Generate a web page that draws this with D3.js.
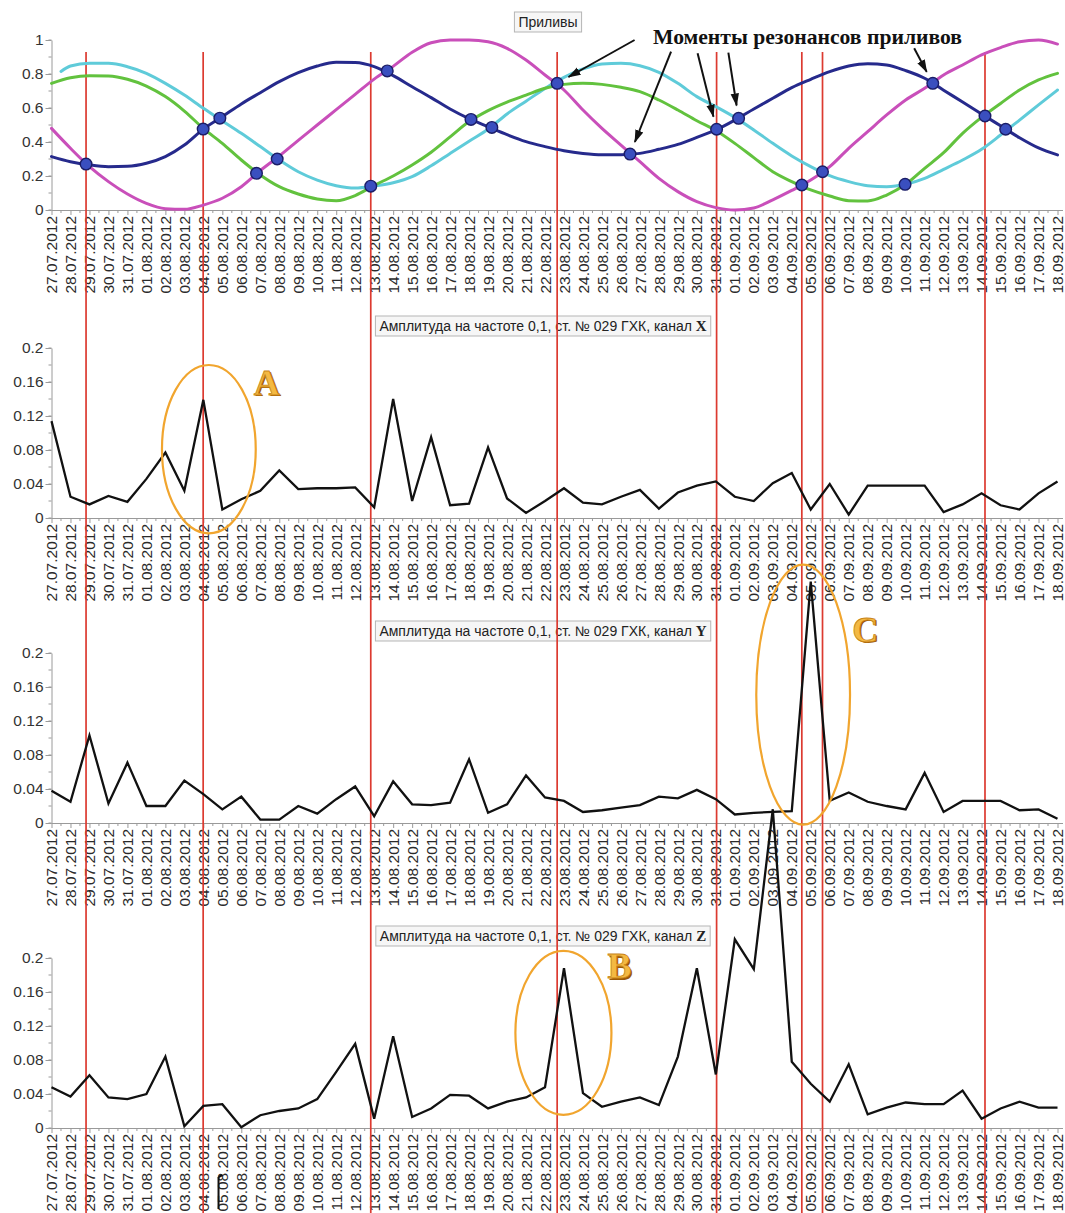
<!DOCTYPE html>
<html><head><meta charset="utf-8">
<script src="https://cdn.jsdelivr.net/npm/d3@7"></script>
<style>body{margin:0;background:#fff} svg{display:block}</style>
</head><body>
<script>
// ---------------- DATA ----------------
const dateLabels = [
 "27.07.2012","28.07.2012","29.07.2012","30.07.2012","31.07.2012",
 "01.08.2012","02.08.2012","03.08.2012","04.08.2012","05.08.2012","06.08.2012","07.08.2012","08.08.2012",
 "09.08.2012","10.08.2012","11.08.2012","12.08.2012","13.08.2012","14.08.2012","15.08.2012","16.08.2012",
 "17.08.2012","18.08.2012","19.08.2012","20.08.2012","21.08.2012","22.08.2012","23.08.2012","24.08.2012",
 "25.08.2012","26.08.2012","27.08.2012","28.08.2012","29.08.2012","30.08.2012","31.08.2012",
 "01.09.2012","02.09.2012","03.09.2012","04.09.2012","05.09.2012","06.09.2012","07.09.2012","08.09.2012",
 "09.09.2012","10.09.2012","11.09.2012","12.09.2012","13.09.2012","14.09.2012","15.09.2012","16.09.2012",
 "17.09.2012","18.09.2012"];

// Tides (Приливы)
const tideMagenta = [0.480,0.363,0.255,0.167,0.094,0.039,0.008,0.004,0.029,0.069,
 0.137,0.232,0.318,0.410,0.500,0.590,0.680,0.770,0.845,0.928,
 0.984,1.000,1.000,0.990,0.951,0.882,0.794,0.706,0.588,0.480,
 0.382,0.284,0.186,0.108,0.049,0.014,0.000,0.012,0.060,0.115,
 0.176,0.255,0.363,0.461,0.559,0.647,0.716,0.794,0.853,0.912,
 0.955,0.990,1.000,0.976];
const cyanStart = [0.5, 0.815];
const tideCyan = [null,0.847,0.863,0.863,0.843,0.804,0.745,0.676,0.598,0.524,
 0.451,0.373,0.294,0.225,0.176,0.143,0.129,0.141,0.160,0.196,
 0.260,0.333,0.405,0.475,0.565,0.640,0.715,0.780,0.830,0.859,
 0.863,0.849,0.810,0.745,0.667,0.608,0.545,0.471,0.392,0.318,
 0.255,0.202,0.167,0.143,0.137,0.151,0.186,0.239,0.294,0.357,
 0.441,0.529,0.618,0.706];
const tideGreen = [0.745,0.778,0.790,0.788,0.769,0.729,0.667,0.582,0.480,0.392,
 0.294,0.206,0.137,0.094,0.065,0.055,0.085,0.145,0.200,0.265,
 0.340,0.430,0.520,0.585,0.635,0.676,0.716,0.739,0.745,0.739,
 0.722,0.696,0.647,0.588,0.525,0.468,0.392,0.308,0.225,0.167,
 0.118,0.082,0.055,0.053,0.088,0.151,0.245,0.337,0.451,0.545,
 0.627,0.706,0.765,0.804];
const tideNavy = [0.314,0.284,0.265,0.255,0.257,0.275,0.314,0.382,0.476,0.549,
 0.624,0.690,0.755,0.808,0.847,0.869,0.867,0.843,0.790,0.725,
 0.661,0.594,0.537,0.490,0.443,0.402,0.373,0.349,0.333,0.325,
 0.325,0.333,0.357,0.386,0.427,0.471,0.529,0.594,0.657,0.720,
 0.769,0.814,0.847,0.861,0.853,0.820,0.775,0.705,0.635,0.565,
 0.495,0.425,0.365,0.324];

// Resonance moments (day index, tide value)
const resonanceDots = [[1.82,0.27],[7.99,0.476],[8.87,0.54],[10.8,0.216],[11.89,0.30],[16.82,0.14],
 [17.69,0.818],[22.1,0.533],[23.2,0.486],[26.64,0.745],[30.48,0.329],[35.04,0.475],[36.2,0.539],
 [39.53,0.147],[40.62,0.225],[44.97,0.151],[46.43,0.745],[49.18,0.553],[50.27,0.475]];
const resonanceLines = [1.82,7.99,16.82,26.64,35.04,39.53,40.62,49.18];

// Amplitude at frequency 0.1, station 029, channels X, Y, Z
const ampX = [0.114,0.025,0.016,0.026,0.019,0.046,0.077,0.032,0.139,0.010,
 0.022,0.032,0.056,0.034,0.035,0.035,0.036,0.0125,0.140,0.020,
 0.095,0.015,0.017,0.083,0.023,0.006,0.020,0.035,0.018,0.016,
 0.025,0.033,0.011,0.030,0.038,0.043,0.025,0.020,0.041,0.053,
 0.010,0.040,0.004,0.038,0.038,0.038,0.038,0.007,0.016,0.029,
 0.015,0.010,0.029,0.043];
const ampY = [0.038,0.025,0.103,0.023,0.071,0.020,0.020,0.050,0.034,0.016,
 0.031,0.004,0.004,0.020,0.011,0.028,0.043,0.008,0.049,0.022,
 0.021,0.024,0.075,0.012,0.022,0.056,0.030,0.026,0.013,0.015,
 0.018,0.021,0.031,0.029,0.039,0.028,0.010,0.012,0.013,0.014,
 0.284,0.026,0.036,0.025,0.020,0.016,0.059,0.013,0.026,0.026,
 0.026,0.015,0.016,0.005];
const ampZ = [0.048,0.037,0.062,0.036,0.034,0.040,0.084,0.002,0.026,0.028,
 0.001,0.015,0.020,0.023,0.034,0.066,0.099,0.011,0.108,0.013,
 0.023,0.039,0.038,0.023,0.031,0.036,0.048,0.188,0.041,0.025,
 0.031,0.036,0.027,0.084,0.188,0.063,0.222,0.187,0.375,0.078,
 0.052,0.031,0.075,0.016,0.024,0.030,0.028,0.028,0.044,0.011,
 0.023,0.031,0.024,0.024];

const tideTicks = [0,0.2,0.4,0.6,0.8,1];
const ampTicks = [0,0.04,0.08,0.12,0.16,0.2];
const tideTitle = "Приливы";
const ampTitle = "Амплитуда на частоте 0,1, ст. № 029 ГХК, канал ";
const channels = ["X","Y","Z"];
const annotationText = "Моменты резонансов приливов";

// ---------------- DRAW ----------------
const W = 1065, H = 1213;
const svg = d3.select("body").append("svg").attr("width", W).attr("height", H)
  .style("font-family", "'Liberation Sans', Arial, sans-serif");

const x = d3.scaleLinear().domain([0, dateLabels.length - 1]).range([51.5, 1057.5]);
const PH = 170;
const panels = [
  {top: 40,  domain: [0, 1],   ticks: tideTicks, minorStep: 0.1},
  {top: 348, domain: [0, 0.2], ticks: ampTicks,  minorStep: 0.02, data: ampX, ch: channels[0]},
  {top: 653, domain: [0, 0.2], ticks: ampTicks,  minorStep: 0.02, data: ampY, ch: channels[1]},
  {top: 958, domain: [0, 0.2], ticks: ampTicks,  minorStep: 0.02, data: ampZ, ch: channels[2]}
];
panels.forEach(p => p.y = d3.scaleLinear().domain(p.domain).range([p.top + PH, p.top]));

const axisColor = "#9a9a9a";
const axesG = svg.append("g");
panels.forEach(p => {
  const g = axesG.append("g");
  const base = p.top + PH;
  const nMinor = Math.round((p.domain[1] - p.domain[0]) / p.minorStep);
  g.selectAll(".ym").data(d3.range(nMinor + 1)).join("line")
    .attr("x1", 48.5).attr("x2", 51.5)
    .attr("y1", i => p.y(i * p.minorStep)).attr("y2", i => p.y(i * p.minorStep))
    .attr("stroke", axisColor).attr("stroke-width", 1);
  const ya = g.append("g").attr("transform", "translate(51.5,0)")
    .call(d3.axisLeft(p.y).tickValues(p.ticks).tickFormat(d => String(d)).tickSize(6).tickSizeOuter(0));
  ya.select(".domain").attr("stroke", axisColor);
  ya.selectAll(".tick line").attr("stroke", axisColor);
  ya.selectAll(".tick text").attr("font-size", 15.5).attr("fill", "#333").attr("x", -8)
    .style("font-family", "'Liberation Sans', Arial, sans-serif");
  g.append("line").attr("x1", 51.5).attr("x2", 1063).attr("y1", base + 0.5).attr("y2", base + 0.5)
    .attr("stroke", axisColor);
  g.selectAll(".xm").data(d3.range(dateLabels.length - 1)).join("line")
    .attr("x1", i => x(i + 0.5)).attr("x2", i => x(i + 0.5))
    .attr("y1", base).attr("y2", base + 3).attr("stroke", axisColor);
  const xa = g.append("g").attr("transform", `translate(0,${base})`)
    .call(d3.axisBottom(x).tickValues(d3.range(dateLabels.length)).tickFormat(i => dateLabels[i])
      .tickSize(5).tickSizeOuter(0));
  xa.select(".domain").remove();
  xa.selectAll(".tick line").attr("stroke", axisColor);
  xa.selectAll(".tick text")
    .attr("transform", "rotate(-90)").attr("text-anchor", "end")
    .attr("x", -6).attr("y", 0).attr("dy", "0.33em")
    .attr("font-size", 15.5).attr("fill", "#2a2a2a")
    .style("font-family", "'Liberation Sans', Arial, sans-serif");
});

// titles
function titleBox(cx, baseline, parts) {
  const g = svg.append("g");
  const rect = g.append("rect");
  const t = g.append("text").attr("x", cx).attr("y", baseline).attr("text-anchor", "middle")
    .attr("font-size", 14).attr("fill", "#222");
  parts.forEach(pt => {
    const ts = t.append("tspan").text(pt.text);
    if (pt.bold) ts.attr("font-family", "'Liberation Serif', 'Times New Roman', serif")
      .attr("font-weight", "bold").attr("font-size", 15);
  });
  const bb = t.node().getBBox();
  rect.attr("x", bb.x - 4).attr("y", baseline - 15).attr("width", bb.width + 8).attr("height", 20)
    .attr("fill", "#f6f6f6").attr("stroke", "#b5b5b5").attr("stroke-width", 1);
}
titleBox(548, 27, [{text: tideTitle}]);
panels.slice(1).forEach(p => titleBox(543, p.top - 17, [{text: ampTitle}, {text: p.ch, bold: true}]));

// red resonance lines
svg.append("g").selectAll("line").data(resonanceLines).join("line")
  .attr("x1", d => x(d)).attr("x2", d => x(d))
  .attr("y1", panels[0].y(0.93)).attr("y2", H)
  .attr("stroke", "#dc3a30").attr("stroke-width", 1.7);

// tide curves
const tp = panels[0];
const tideLine = d3.line().defined(d => d[1] != null)
  .x(d => x(d[0])).y(d => tp.y(d[1])).curve(d3.curveMonotoneX);
const tideSeries = [
  {vals: tideCyan.map((v, i) => [i, v]), lead: cyanStart, color: "#5fcbd9"},
  {vals: tideGreen.map((v, i) => [i, v]), color: "#62c23e"},
  {vals: tideMagenta.map((v, i) => [i, v]), color: "#c94fba"},
  {vals: tideNavy.map((v, i) => [i, v]), color: "#262a8c"}
];
tideSeries.forEach(s => {
  let pts = s.vals.filter(d => d[1] != null);
  if (s.lead) pts = [s.lead].concat(pts);
  svg.append("path").datum(pts).attr("d", tideLine)
    .attr("fill", "none").attr("stroke", s.color).attr("stroke-width", 3)
    .attr("stroke-linecap", "round");
});

// resonance dots
svg.append("g").selectAll("circle").data(resonanceDots).join("circle")
  .attr("cx", d => x(d[0])).attr("cy", d => tp.y(d[1])).attr("r", 5.8)
  .attr("fill", "#3a4fbf").attr("stroke", "#1b1d66").attr("stroke-width", 1.4);

// amplitude lines
panels.slice(1).forEach(p => {
  const line = d3.line().x((d, i) => x(i)).y(d => p.y(d));
  svg.append("path").datum(p.data).attr("d", line)
    .attr("fill", "none").attr("stroke", "#111").attr("stroke-width", 2.3)
    .attr("stroke-linejoin", "miter");
});

// orange ellipses
const ellipses = [
  {p: panels[1], d: 8.29, v: 0.081, rd: 2.47, rv: 0.099},
  {p: panels[2], d: 39.6, v: 0.151, rd: 2.47, rv: 0.153},
  {p: panels[3], d: 26.97, v: 0.112, rd: 2.53, rv: 0.0965}
];
svg.append("g").selectAll("ellipse").data(ellipses).join("ellipse")
  .attr("cx", e => x(e.d)).attr("cy", e => e.p.y(e.v))
  .attr("rx", e => x(e.rd) - x(0)).attr("ry", e => e.p.y(0) - e.p.y(e.rv))
  .attr("fill", "none").attr("stroke", "#f1a52e").attr("stroke-width", 2.2);

// letters
const letters = [
  {t: "A", p: panels[1], d: 11.34, v: 0.145},
  {t: "B", p: panels[3], d: 29.92, v: 0.176},
  {t: "C", p: panels[2], d: 42.87, v: 0.213}
];
const lg = svg.append("g").attr("font-family", "'Liberation Serif', 'Times New Roman', serif")
  .attr("font-weight", "bold").attr("font-size", 36).attr("text-anchor", "middle");
lg.selectAll(".sh").data(letters).join("text")
  .attr("x", l => x(l.d) + 1.5).attr("y", l => l.p.y(l.v) + 1.5).text(l => l.t)
  .attr("fill", "#9a5a08");
lg.selectAll(".fg").data(letters).join("text")
  .attr("x", l => x(l.d)).attr("y", l => l.p.y(l.v)).text(l => l.t)
  .attr("fill", "#f4b942").attr("stroke", "#c98418").attr("stroke-width", 0.8);

// annotation with arrows
const defs = svg.append("defs");
defs.append("marker").attr("id", "ah").attr("viewBox", "0 -5 13 10")
  .attr("refX", 12).attr("refY", 0).attr("markerWidth", 13).attr("markerHeight", 10)
  .attr("markerUnits", "userSpaceOnUse").attr("orient", "auto")
  .append("path").attr("d", "M0,-4.2L13,0L0,4.2Z").attr("fill", "#111");

svg.append("text").attr("x", 653).attr("y", 44)
  .attr("font-family", "'Liberation Serif', 'Times New Roman', serif").attr("font-weight", "bold")
  .attr("font-size", 21).attr("fill", "#111").attr("textLength", 309).attr("lengthAdjust", "spacingAndGlyphs")
  .text(annotationText);

const arrows = [
  {from: [30.72, 1.0],   to: 9},
  {from: [32.64, 0.931], to: 10},
  {from: [34.04, 0.922], to: 11},
  {from: [35.66, 0.926], to: 12},
  {from: [45.45, 0.951], to: 16}
];
svg.append("g").selectAll("line").data(arrows).join("line")
  .each(function(a) {
    const x1 = x(a.from[0]), y1 = tp.y(a.from[1]);
    const dot = resonanceDots[a.to];
    const cx = x(dot[0]), cy = tp.y(dot[1]);
    const dx = cx - x1, dy = cy - y1, len = Math.hypot(dx, dy);
    const k = (len - 13) / len;
    d3.select(this).attr("x1", x1).attr("y1", y1).attr("x2", x1 + dx * k).attr("y2", y1 + dy * k);
  })
  .attr("stroke", "#111").attr("stroke-width", 2).attr("marker-end", "url(#ah)");

// small cursor mark near bottom
svg.append("path").attr("d", `M${x(8.8)},${H - 36} v32 M${x(8.8)},${H - 36} l4,-2`)
  .attr("stroke", "#111").attr("stroke-width", 2).attr("fill", "none");
</script>
</body></html>
